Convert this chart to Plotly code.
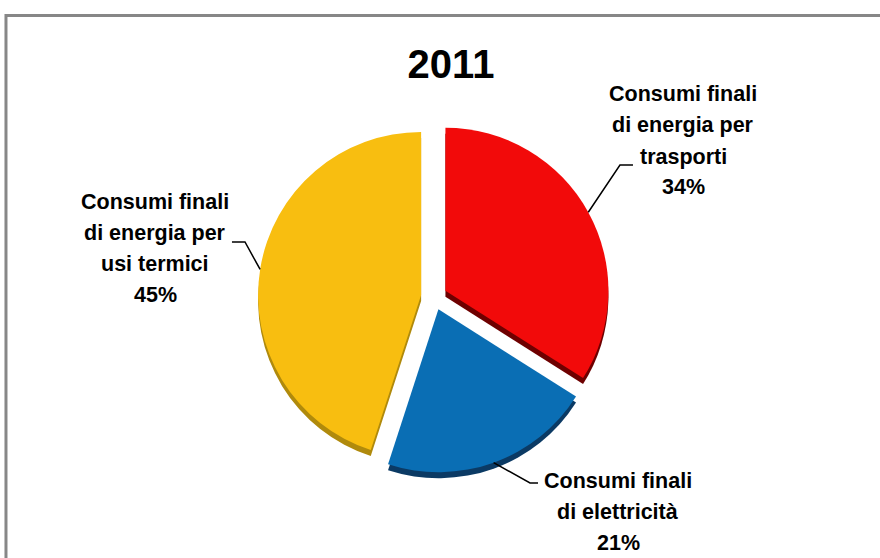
import math
import plotly.graph_objects as go

# ---- data ----
categories = [
    "Consumi finali di energia per trasporti",
    "Consumi finali di elettricità",
    "Consumi finali di energia per usi termici",
]
label_lines = [
    ["Consumi finali", "di energia per", "trasporti"],
    ["Consumi finali", "di elettricità"],
    ["Consumi finali", "di energia per", "usi termici"],
]
values = [34, 21, 45]
title_text = "2011"

# ---- styling / layout ----
colors = ["#F20A0A", "#0A6EB4", "#F8BE10"]
side_colors = ["#6E0000", "#0B3A64", "#B08A0C"]
W, H = 880, 558
CX, CY, R = 434, 297, 163          # pie centre / radius in px
PULL = 0.08
DEPTH = 6
FONT = "Liberation Sans, Arial, sans-serif"
FONT_SIZE = 21.5
LINE_GAP = 31

# label block centres and leader elbows/ends (px)
label_pos = [(683, 141), (618, 512), (155, 248)]
leader_bend = [[(620, 165), (633, 165)], [(530, 483), (538, 483)], [(245, 242), (232, 242)]]


def px2paper(x, y):
    return x / W, 1 - y / H


def domain_for(cy):
    half = R * (1 + PULL)
    return dict(x=[(CX - half) / W, (CX + half) / W],
                y=[1 - (cy + half) / H, 1 - (cy - half) / H])


fig = go.Figure()
# darker "side" of the 3D pie
fig.add_trace(go.Pie(
    labels=categories, values=values, sort=False, direction="clockwise", rotation=0,
    pull=[PULL] * len(values), marker=dict(colors=side_colors, line=dict(width=0)),
    textinfo="none", hoverinfo="skip", showlegend=False, domain=domain_for(CY + DEPTH),
))
# top face
fig.add_trace(go.Pie(
    labels=categories, values=values, sort=False, direction="clockwise", rotation=0,
    pull=[PULL] * len(values), marker=dict(colors=colors, line=dict(width=0)),
    textinfo="none", showlegend=False, domain=domain_for(CY),
))

total = sum(values)
shapes = []
annotations = []
cum = 0
for i, v in enumerate(values):
    mid = (cum + v / 2) / total * 2 * math.pi
    cum += v
    dx, dy = math.sin(mid), -math.cos(mid)
    ox, oy = CX + PULL * R * dx, CY + PULL * R * dy
    sx, sy = ox + R * dx, oy + R * dy
    pts = [(sx, sy)] + leader_bend[i]
    path = "M " + " L ".join("{:.4f},{:.4f}".format(*px2paper(x, y)) for x, y in pts)
    shapes.append(dict(type="path", xref="paper", yref="paper", path=path,
                       line=dict(color="black", width=1.5)))
    pct = round(v / total * 100)
    lines = label_lines[i] + ["{}%".format(pct)]
    n = len(lines)
    cxl, cyl = label_pos[i]
    for k, line in enumerate(lines):
        ly_px = cyl + (k - (n - 1) / 2) * LINE_GAP
        lx, ly = px2paper(cxl, ly_px)
        annotations.append(dict(x=lx, y=ly, xref="paper", yref="paper", text=line,
                                showarrow=False, xanchor="center", yanchor="middle", align="center",
                                font=dict(family=FONT, size=FONT_SIZE, color="black", weight="bold")))

# chart border (only left and top visible in the crop)
bx0, by0 = px2paper(6, 15.5)
bx1, by1 = px2paper(900, 600)
shapes.append(dict(type="path", xref="paper", yref="paper",
                   path="M {:.4f},{:.4f} L {:.4f},{:.4f} L {:.4f},{:.4f}".format(bx0, by1, bx0, by0, bx1, by0),
                   line=dict(color="#878787", width=3)))

tx, ty = px2paper(451, 64)
fig.update_layout(
    width=W, height=H, margin=dict(l=0, r=0, t=0, b=0),
    paper_bgcolor="white", plot_bgcolor="white",
    title=dict(text=title_text, x=tx, y=ty, xref="paper", yref="paper",
               xanchor="center", yanchor="middle",
               font=dict(family="Liberation Sans, Arial, sans-serif", size=40, color="black", weight="bold")),
    shapes=shapes, annotations=annotations,
)

fig.write_html("out.html")
